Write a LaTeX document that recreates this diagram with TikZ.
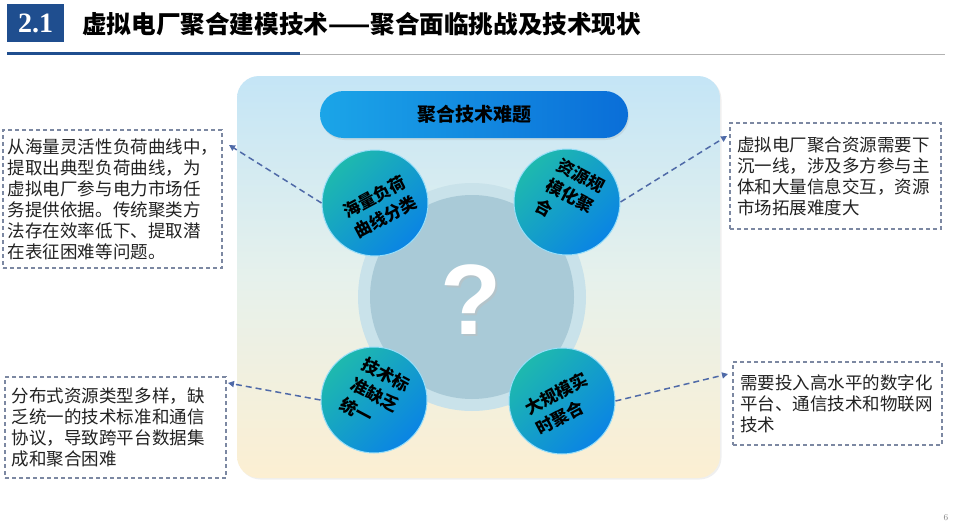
\documentclass[tikz,border=0pt]{standalone}
\usepackage{fontspec}
\newfontfamily\cjk{Noto Sans CJK SC}
\newfontfamily\numfont{Liberation Serif}
\newfontfamily\qfont{Liberation Sans}
\usetikzlibrary{arrows.meta,shadows}
\definecolor{titleblue}{HTML}{1F4E8F}
\definecolor{connblue}{HTML}{4F6AA8}
\definecolor{boxline}{HTML}{7C88A2}
\definecolor{paneltop}{HTML}{C4E5F6}
\definecolor{panelmid}{HTML}{E6F1EC}
\definecolor{panelbot}{HTML}{FCEFD2}
\definecolor{halo}{HTML}{C9E2EA}
\definecolor{core}{HTML}{A9CAD7}
\definecolor{teal}{HTML}{1EB9AE}
\definecolor{dblue}{HTML}{0A84E4}
\definecolor{pillL}{HTML}{1BA5E8}
\definecolor{pillR}{HTML}{0A6ED8}
\definecolor{bodytext}{HTML}{222222}
\begin{document}
\begin{tikzpicture}[x=1pt,y=-1pt,
  descbox/.style={draw=boxline, dash pattern=on 4pt off 3pt, line width=1.1pt, fill=white,
    align=left, inner ysep=0pt, inner xsep=7pt, text=bodytext, font=\cjk\fontsize{17.5}{21}\selectfont},
  conn/.style={draw=connblue, dash pattern=on 6pt off 4pt, line width=1.5pt,
    -{Triangle[length=6pt,width=6pt]}},
  bubble/.style={circle, minimum size=106pt, inner sep=0pt, top color=teal, bottom color=dblue,
    shading angle=45, draw=cyan!40!white, line width=1pt},
  bubbletext/.style={align=left, inner sep=0pt, font=\cjk\bfseries\fontsize{17}{22.5}\selectfont, text=black}
]
\useasboundingbox (0,0) rectangle (955,527);
\fill[white] (0,0) rectangle (955,527);

% header
\node[fill=titleblue, minimum width=57pt, minimum height=38pt, inner sep=0pt, text=white,
  font=\numfont\bfseries\fontsize{28}{30}\selectfont] (num) at (35.5,23) {2.1};
\node[anchor=west, inner sep=0pt, font=\cjk\bfseries\fontsize{24.6}{28}\selectfont] (title) at (82,24)
  {虚拟电厂聚合建模技术——聚合面临挑战及技术现状};
\coordinate (ulA) at (7,54);
\coordinate (ulB) at (300,54);
\coordinate (ulC) at (945,54);
\draw[line width=3pt, titleblue] (ulA) -- (ulB);
\draw[line width=0.8pt, gray!60] (ulB) -- (ulC);

% panel
\node[rounded corners=22pt, minimum width=483pt, minimum height=402pt, inner sep=0pt,
  top color=paneltop, bottom color=panelbot, middle color=panelmid,
  drop shadow={opacity=0.12, shadow xshift=1.5pt, shadow yshift=-1.5pt}] (panel) at (478.5,277) {};

% header pill
\node[rounded corners=23.5pt, minimum width=308pt, minimum height=47pt, inner sep=0pt,
  left color=pillL, right color=pillR,
  drop shadow={opacity=0.15, shadow xshift=1pt, shadow yshift=-2pt},
  font=\cjk\bfseries\fontsize{19}{22}\selectfont, text=black] (hdr) at (474,114.5) {聚合技术难题};

% central circle
\node[circle, fill=halo, minimum size=228pt, inner sep=0pt] (halo) at (472,297) {};
\node[circle, fill=core, minimum size=204pt, inner sep=0pt] (core) at (472,297) {};
\node[text=black!25, font=\qfont\bfseries\fontsize{100}{100}\selectfont, opacity=0.5] (qs) at (473,301.5) {?};
\node[text=white, font=\qfont\bfseries\fontsize{100}{100}\selectfont] (q) at (471,300) {?};

% bubbles
\node[bubble] (c1) at (375,203) {};
\node[bubble] (c2) at (567,202) {};
\node[bubble] (c3) at (374,400) {};
\node[bubble] (c4) at (562,401) {};
\node[bubbletext, rotate=28] (l1) at (380,207) {海量负荷\\曲线分类};
\node[bubbletext, rotate=-28] (l2) at (570,196) {资源规\\模化聚\\合};
\node[bubbletext, rotate=-28] (l3) at (375,395) {技术标\\准缺乏\\统一};
\node[bubbletext, rotate=28] (l4) at (562,404) {大规模实\\时聚合};

% description boxes
\node[descbox, inner xsep=5pt, text width=209pt, minimum height=138pt] (b1) at (112.5,199)
  {从海量灵活性负荷曲线中，\\提取出典型负荷曲线，为\\虚拟电厂参与电力市场任\\务提供依据。传统聚类方\\法存在效率低下、提取潜\\在表征困难等问题。};
\node[descbox, text width=197pt, minimum height=106pt] (b2) at (835.5,176)
  {虚拟电厂聚合资源需要下\\沉一线，涉及多方参与主\\体和大量信息交互，资源\\市场拓展难度大};
\node[descbox, text width=207pt, minimum height=101pt] (b3) at (115.5,427.5)
  {分布式资源类型多样，缺\\乏统一的技术标准和通信\\协议，导致跨平台数据集\\成和聚合困难};
\node[descbox, text width=195pt, minimum height=83pt] (b4) at (837.5,403.5)
  {需要投入高水平的数字化\\平台、通信技术和物联网\\技术};

% connectors
\coordinate (a1) at (229,145);
\coordinate (a2) at (727,136);
\coordinate (a3) at (228,383);
\coordinate (a4) at (728,374);
\draw[conn] (c1.west) -- (a1);
\draw[conn] (c2.east) -- (a2);
\draw[conn] (c3.west) -- (a3);
\draw[conn] (c4.east) -- (a4);

% page number
\node[text=gray, font=\fontsize{9}{10}\selectfont] (pg) at (946,518) {6};
\end{tikzpicture}
\end{document}
